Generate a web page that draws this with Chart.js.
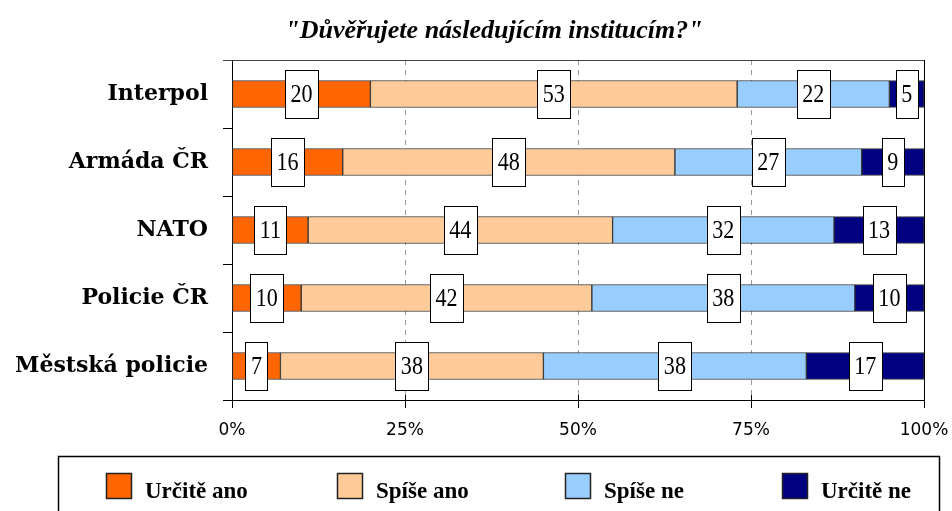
<!DOCTYPE html>
<html>
<head>
<meta charset="utf-8">
<script src="https://cdn.jsdelivr.net/npm/chart.js@4.4.1/dist/chart.umd.min.js"></script>
<style>
html, body { margin: 0; padding: 0; background: #fff; }
</style>
</head>
<body>
<canvas id="myChart" width="952" height="511"></canvas>
<script>
// data
var institutions = ['Interpol', 'Armáda ČR', 'NATO', 'Policie ČR', 'Městská policie'];
var seriesNames = ['Určitě ano', 'Spíše ano', 'Spíše ne', 'Určitě ne'];
var urciteAno = [20, 16, 11, 10, 7];
var spiseAno = [53, 48, 44, 42, 38];
var spiseNe = [22, 27, 32, 38, 38];
var urciteNe = [5, 9, 13, 10, 17];
var tickStep = 25;
var titleText = '"Důvěřujete následujícím institucím?"';

var seriesColors = ['#FF6600', '#FFCC99', '#99CCFF', '#000080'];

function makeDataset(i, values) {
    return {
        label: seriesNames[i],
        data: values,
        backgroundColor: seriesColors[i],
        borderColor: '#333',
        borderWidth: 1,
        borderSkipped: false,
        barThickness: 27
    };
}

// dashed grid, frame, value boxes, title, legend
var decorPlugin = {
    id: 'decor',
    beforeDatasetsDraw: function(chart) {
        var ctx = chart.ctx, area = chart.chartArea, xs = chart.scales.x;
        ctx.save();
        ctx.strokeStyle = '#999';
        ctx.lineWidth = 1;
        ctx.setLineDash([5, 5]);
        [25, 50, 75].forEach(function(v) {
            var px = Math.round(xs.getPixelForValue(v)) + 0.5;
            ctx.beginPath();
            ctx.moveTo(px, area.top);
            ctx.lineTo(px, area.bottom);
            ctx.stroke();
        });
        ctx.setLineDash([]);
        ctx.strokeStyle = '#444';
        ctx.beginPath();
        ctx.moveTo(area.left - 9, area.top + 0.5);
        ctx.lineTo(area.right, area.top + 0.5);
        ctx.stroke();
        ctx.strokeStyle = '#000';
        ctx.beginPath();
        ctx.moveTo(area.right + 0.5, area.top);
        ctx.lineTo(area.right + 0.5, area.bottom);
        ctx.stroke();
        // x tick marks also poke a little above the axis
        xs.ticks.forEach(function(t) {
            var px = Math.round(xs.getPixelForValue(t.value)) + 0.5;
            ctx.beginPath();
            ctx.moveTo(px, area.bottom - 5);
            ctx.lineTo(px, area.bottom);
            ctx.stroke();
        });
        ctx.restore();
    },
    afterDatasetsDraw: function(chart) {
        var ctx = chart.ctx;
        ctx.save();
        ctx.font = '26px "Liberation Serif"';
        ctx.textAlign = 'center';
        ctx.textBaseline = 'middle';
        chart.data.datasets.forEach(function(ds, di) {
            var meta = chart.getDatasetMeta(di);
            meta.data.forEach(function(bar, i) {
                var txt = String(ds.data[i]);
                var cx = (bar.x + bar.base) / 2;
                var w = Math.round(ctx.measureText(txt).width * 0.85 + 11);
                var h = 48;
                var bx = Math.round(cx - w / 2) + 0.5, by = Math.round(bar.y - h / 2) + 0.5;
                ctx.fillStyle = '#fff';
                ctx.fillRect(bx, by, w, h);
                ctx.strokeStyle = '#000';
                ctx.lineWidth = 1;
                ctx.strokeRect(bx, by, w, h);
                ctx.save();
                ctx.translate(cx, bar.y + 1);
                ctx.scale(0.85, 1);
                ctx.fillStyle = '#000';
                ctx.fillText(txt, 0, 0);
                ctx.restore();
            });
        });
        ctx.restore();
    },
    afterDraw: function(chart) {
        var ctx = chart.ctx;
        ctx.save();
        // title
        ctx.fillStyle = '#000';
        ctx.font = 'italic bold 26px "Liberation Serif"';
        ctx.textAlign = 'center';
        ctx.textBaseline = 'alphabetic';
        ctx.fillText(titleText, 494, 38);
        // legend
        ctx.strokeStyle = '#000';
        ctx.lineWidth = 1.5;
        ctx.strokeRect(58.5, 456.5, 881, 70);
        var itemX = [106, 337, 565, 782];
        ctx.font = 'bold 23px "Liberation Serif"';
        ctx.textAlign = 'left';
        chart.data.datasets.forEach(function(ds, i) {
            ctx.fillStyle = ds.backgroundColor;
            ctx.fillRect(itemX[i], 473, 26, 26);
            ctx.strokeStyle = '#222';
            ctx.lineWidth = 1.5;
            ctx.strokeRect(itemX[i] + 0.5, 473.5, 25, 25);
            ctx.fillStyle = '#000';
            ctx.fillText(ds.label, itemX[i] + 39, 498);
        });
        ctx.restore();
    }
};

var ctx = document.getElementById('myChart').getContext('2d');
var myChart = new Chart(ctx, {
    type: 'bar',
    data: {
        labels: institutions,
        datasets: [
            makeDataset(0, urciteAno),
            makeDataset(1, spiseAno),
            makeDataset(2, spiseNe),
            makeDataset(3, urciteNe)
        ]
    },
    options: {
        indexAxis: 'y',
        responsive: false,
        animation: false,
        devicePixelRatio: 1,
        layout: { padding: { top: 60, right: 28, left: 0, bottom: 0 } },
        plugins: {
            legend: { display: false },
            title: { display: false },
            tooltip: { enabled: false }
        },
        scales: {
            x: {
                stacked: true,
                min: 0,
                max: 100,
                afterFit: function(s) { s.height = 111; s.paddingLeft = 0; s.paddingRight = 0; },
                ticks: {
                    stepSize: tickStep,
                    callback: function(v) { return v + '%'; },
                    color: '#000',
                    font: { family: '"DejaVu Sans"', size: 17 },
                    padding: 12,
                    maxRotation: 0
                },
                grid: { drawOnChartArea: false, tickColor: '#000', tickLength: 8 },
                border: { color: '#000', width: 1 }
            },
            y: {
                stacked: true,
                afterFit: function(s) { s.width = 232; s.paddingTop = 0; s.paddingBottom = 0; },
                ticks: {
                    color: '#000',
                    font: { family: '"DejaVu Serif"', size: 22, weight: 'bold' },
                    padding: 15
                },
                grid: { drawOnChartArea: false, tickColor: '#000', tickLength: 9 },
                border: { color: '#000', width: 1 }
            }
        }
    },
    plugins: [decorPlugin]
});
</script>
</body>
</html>
